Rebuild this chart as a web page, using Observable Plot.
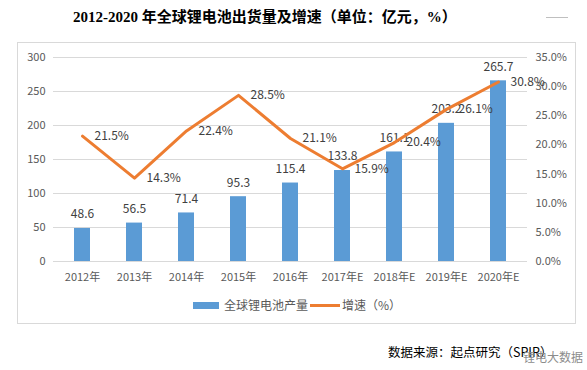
<!DOCTYPE html>
<html><head><meta charset="utf-8">
<script src="https://cdn.jsdelivr.net/npm/d3@7"></script>
<script src="https://cdn.jsdelivr.net/npm/@observablehq/plot@0.6"></script>
<style>
body{margin:0;background:#fff;}
#wrap{position:relative;width:587px;height:370px;overflow:hidden;background:#fff;font-family:"Noto Sans CJK SC","Microsoft YaHei",sans-serif;}
.abs{position:absolute;white-space:nowrap;}
#wrap svg{position:absolute;left:0;top:0;}
</style></head><body>
<div id="wrap">
  <div class="abs" style="left:17px;top:42px;width:559px;height:282px;box-sizing:border-box;border:1px solid #D9D9D9;"></div>
  <div class="abs" style="left:73px;top:6px;font-size:15px;font-weight:bold;color:#000;font-family:'Liberation Serif','Noto Sans CJK SC',serif;line-height:22px;">2012-2020 年全球锂电池出货量及增速（单位：亿元，%）</div>
  <div class="abs" style="left:546px;top:17px;width:22px;height:0;border-top:1px solid #BFBFBF;"></div>
  <div id="charts"></div>
  <div class="abs" style="left:193px;top:302px;width:26px;height:7px;background:#5B9BD5;"></div>
  <div class="abs" style="left:224px;top:296px;font-size:12px;line-height:18px;color:#595959;">全球锂电池产量</div>
  <div class="abs" style="left:310px;top:304px;width:30px;height:3px;background:#ED7D31;"></div>
  <div class="abs" style="left:342px;top:296px;font-size:12px;line-height:18px;color:#595959;">增速（%）</div>
  <div class="abs" style="left:388px;top:343px;font-size:12.5px;line-height:18px;color:#000;">数据来源：起点研究（SPIR）</div>
  <div class="abs" style="left:523px;top:348px;font-size:12px;line-height:18px;color:#8C8C8C;">锂电大数据</div>
</div>
<script>
const years = ["2012年","2013年","2014年","2015年","2016年","2017年E","2018年E","2019年E","2020年E"];
const output = [48.6, 56.5, 71.4, 95.3, 115.4, 133.8, 161.1, 203.2, 265.7];
const growth = [21.5, 14.3, 22.4, 28.5, 21.1, 15.9, 20.4, 26.1, 30.8];
const leftTicks = [0, 50, 100, 150, 200, 250, 300];
const rightTicks = [0, 5, 10, 15, 20, 25, 30, 35];

const data = years.map((year, i) => ({year, output: output[i], growth: growth[i]}));

const W = 587, H = 290;
const common = {
  width: W, height: H, marginTop: 57, marginBottom: 29, marginLeft: 53, marginRight: 60,
  style: {fontFamily: '"Noto Sans CJK SC","Microsoft YaHei",sans-serif', fontSize: "11px", color: "#595959", background: "transparent", overflow: "visible"}
};
const xOpts = {domain: years, paddingInner: 0.7, paddingOuter: 0.35, axis: null, label: null};

const bars = Plot.plot({
  ...common,
  x: xOpts,
  y: {domain: [0, 300], axis: null},
  marks: [
    Plot.ruleY(leftTicks, {stroke: "#D9D9D9", strokeWidth: 1}),
    Plot.barY(data, {x: "year", y: "output", fill: "#5B9BD5"}),
    Plot.axisY({ticks: leftTicks, tickSize: 0, tickPadding: 8, fill: "#595959", fontSize: 11, label: null}),
    Plot.axisX({tickSize: 0, tickPadding: 12, fill: "#595959", fontSize: 11, label: null}),
    Plot.text(data, {x: "year", y: "output", text: d => d.output.toFixed(1), dy: -14, fill: "#404040", fontSize: 12})
  ]
});

const line = Plot.plot({
  ...common,
  x: xOpts,
  y: {domain: [0, 35], axis: null},
  marks: [
    Plot.line(data, {x: "year", y: "growth", stroke: "#ED7D31", strokeWidth: 3, strokeLinejoin: "round"}),
    Plot.axisY({anchor: "right", ticks: rightTicks, tickSize: 0, tickPadding: 8, tickFormat: d => d.toFixed(1) + "%", fill: "#595959", fontSize: 11, label: null}),
    Plot.text(data, {x: "year", y: "growth", text: d => d.growth.toFixed(1) + "%", dx: 12, textAnchor: "start", fill: "#404040", fontSize: 12})
  ]
});

const c = document.getElementById("charts");
c.appendChild(bars);
c.appendChild(line);
</script>
</body></html>
